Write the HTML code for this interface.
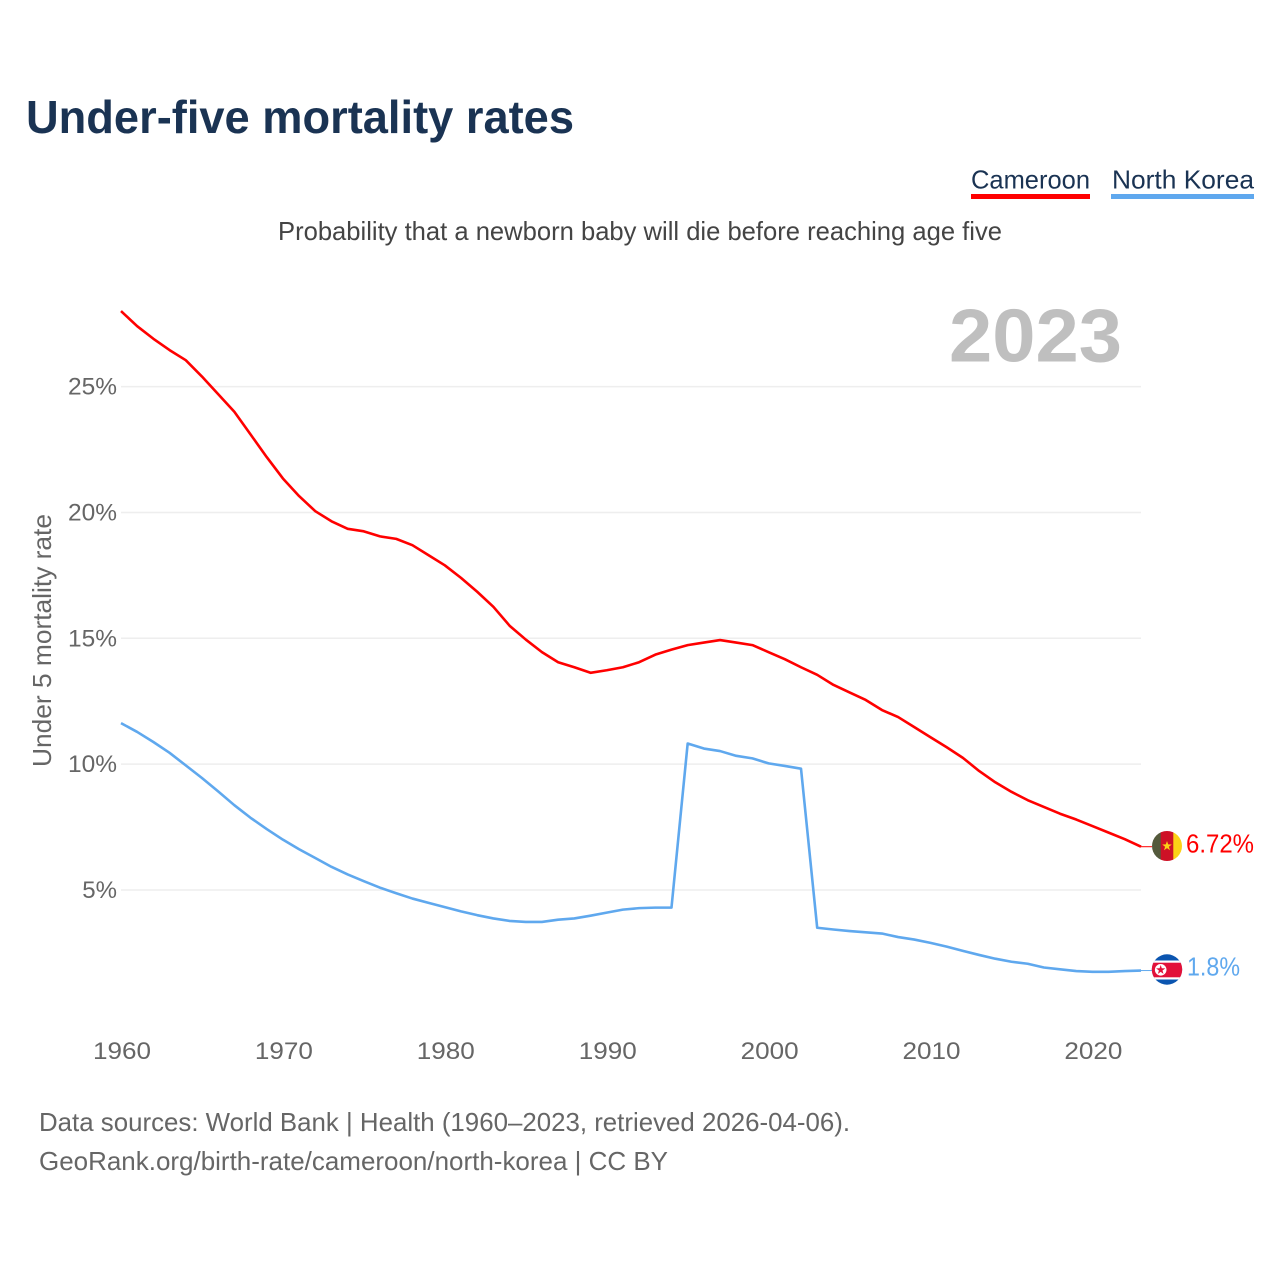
<!DOCTYPE html>
<html lang="en">
<head>
<meta charset="utf-8">
<title>Under-five mortality rates</title>
<style>
html,body{margin:0;padding:0;background:#fff;}
svg{display:block;font-family:"Liberation Sans",sans-serif;}
</style>
</head>
<body>
<svg id="chart" xmlns="http://www.w3.org/2000/svg" width="1280" height="1280" viewBox="0 0 1280 1280">
  <rect x="0" y="0" width="1280" height="1280" fill="#ffffff"/>
  <text x="26" y="133" font-size="46" font-weight="700" fill="#1a3353" textLength="548" lengthAdjust="spacingAndGlyphs">Under-five mortality rates</text>
  <g>
    <text x="971" y="188.5" font-size="26" fill="#1a3353" textLength="119" lengthAdjust="spacingAndGlyphs">Cameroon</text>
    <rect x="971" y="194" width="119" height="5" fill="#ff0000"/>
  </g>
  <g>
    <text x="1112" y="188.5" font-size="26" fill="#1a3353" textLength="142" lengthAdjust="spacingAndGlyphs">North Korea</text>
    <rect x="1111" y="194" width="143" height="5" fill="#5fa8ee"/>
  </g>
  <text x="278" y="240" font-size="26" fill="#444444" textLength="724" lengthAdjust="spacingAndGlyphs">Probability that a newborn baby will die before reaching age five</text>
  <g id="grid"></g>
  <text x="949" y="361.5" font-size="75" font-weight="700" fill="#bfbfbf" textLength="173" lengthAdjust="spacingAndGlyphs">2023</text>
  <g id="yticks"></g>
  <g id="xticks"></g>
  <text transform="translate(51,767) rotate(-90)" x="0" y="0" font-size="26" fill="#666666" textLength="253" lengthAdjust="spacingAndGlyphs">Under 5 mortality rate</text>
  <g id="series"></g>

  <g>
    <clipPath id="clip-cm"><circle cx="1167" cy="846" r="15"/></clipPath>
    <g clip-path="url(#clip-cm)">
      <rect x="1152" y="831" width="9" height="30" fill="#545a3c"/>
      <rect x="1160.7" y="831" width="12.8" height="30" fill="#ce1126"/>
      <rect x="1173.3" y="831" width="9" height="30" fill="#fcd116"/>
      <polygon points="1167,841 1168.2,844.4 1171.8,844.5 1168.9,846.7 1170,850.2 1167,848.1 1164,850.2 1165.1,846.7 1162.2,844.5 1165.8,844.4" fill="#fcd116"/>
    </g>
  </g>
  <g>
    <clipPath id="clip-kp"><circle cx="1167" cy="969.5" r="15.2"/></clipPath>
    <g clip-path="url(#clip-kp)">
      <rect x="1151" y="954" width="32" height="31" fill="#0b55b0"/>
      <rect x="1151" y="960.5" width="32" height="19" fill="#ffffff"/>
      <rect x="1151" y="962.7" width="32" height="14.6" fill="#e2113a"/>
      <circle cx="1160.7" cy="969.8" r="5.8" fill="#ffffff"/>
      <polygon points="1160.7,965 1161.8,968.3 1165.3,968.4 1162.5,970.5 1163.5,973.9 1160.7,971.9 1157.9,973.9 1158.9,970.5 1156.1,968.4 1159.6,968.3" fill="#e2113a"/>
    </g>
  </g>
  <text x="1186" y="852.5" font-size="26" fill="#ff0000" textLength="68" lengthAdjust="spacingAndGlyphs">6.72%</text>
  <text x="1187" y="975.5" font-size="26" fill="#5fa8ee" textLength="53" lengthAdjust="spacingAndGlyphs">1.8%</text>

  <text x="39" y="1131" font-size="26" fill="#666666" textLength="811" lengthAdjust="spacingAndGlyphs">Data sources: World Bank | Health (1960–2023, retrieved 2026-04-06).</text>
  <text x="39" y="1170" font-size="26" fill="#666666" textLength="629" lengthAdjust="spacingAndGlyphs">GeoRank.org/birth-rate/cameroon/north-korea | CC BY</text>
</svg>
<script>
const firstYear = 1960;
const xTickYears = [1960, 1970, 1980, 1990, 2000, 2010, 2020];
const yTickValues = [5, 10, 15, 20, 25];
const yTickLabels = ["5%", "10%", "15%", "20%", "25%"];
const cameroonValues = [
  28.0, 27.4, 26.9, 26.45, 26.05, 25.4, 24.7, 24.0, 23.1, 22.2,
  21.35, 20.65, 20.05, 19.65, 19.35, 19.25, 19.05, 18.95, 18.7, 18.3,
  17.9, 17.4, 16.85, 16.25, 15.5, 14.95, 14.45, 14.05, 13.85, 13.63,
  13.73, 13.85, 14.05, 14.35, 14.55, 14.73, 14.83, 14.93, 14.83, 14.73,
  14.45, 14.17, 13.85, 13.55, 13.15, 12.85, 12.55, 12.15, 11.87, 11.47,
  11.07, 10.67, 10.25, 9.73, 9.28, 8.9, 8.57, 8.3, 8.03, 7.8,
  7.54, 7.28, 7.02, 6.72
];
const northKoreaValues = [
  11.63, 11.28, 10.88, 10.45, 9.95, 9.45, 8.92, 8.37, 7.87, 7.42,
  7.0, 6.62, 6.27, 5.92, 5.62, 5.35, 5.09, 4.87, 4.66, 4.49,
  4.32, 4.15, 4.0, 3.87, 3.77, 3.73, 3.73, 3.82, 3.87, 3.98,
  4.1, 4.22, 4.28, 4.3, 4.3, 10.82, 10.62, 10.52, 10.33, 10.23,
  10.03, 9.93, 9.82, 3.5, 3.43, 3.37, 3.32, 3.27, 3.13, 3.03,
  2.9, 2.75, 2.58, 2.42, 2.27, 2.15, 2.07, 1.92, 1.85, 1.78,
  1.75, 1.75, 1.78, 1.8
];

const SVG_NS = "http://www.w3.org/2000/svg";
const plotLeft = 121, plotRight = 1141, yearSpan = 63;
const yZero = 1015.85, yPerUnit = 25.17;
function xScale(year) { return plotLeft + (year - firstYear) * (plotRight - plotLeft) / yearSpan; }
function yScale(value) { return yZero - value * yPerUnit; }
function svgEl(tag, attrs) {
  const el = document.createElementNS(SVG_NS, tag);
  for (const k in attrs) el.setAttribute(k, attrs[k]);
  return el;
}

const gridGroup = document.getElementById("grid");
const yTickGroup = document.getElementById("yticks");
yTickValues.forEach(function (v, i) {
  const py = yScale(v);
  const line = svgEl("line", { x1: plotLeft, x2: plotRight, y1: py, y2: py, stroke: "#eeeeee", "stroke-width": 1.5 });
  
  
  gridGroup.appendChild(line);
  const label = yTickLabels[i];
  const w = (label.length - 1) * 14.25 + 20.5;
  const t = svgEl("text", { x: 117 - w, y: py + 8, "font-size": 24, fill: "#666666", textLength: w, lengthAdjust: "spacingAndGlyphs" });
  
  
  t.textContent = label;
  yTickGroup.appendChild(t);
});

const xTickGroup = document.getElementById("xticks");
xTickYears.forEach(function (year) {
  const t = svgEl("text", { x: xScale(year) + 1, y: 1059, "font-size": 24, fill: "#666666", "text-anchor": "middle", textLength: 58, lengthAdjust: "spacingAndGlyphs" });
  
  
  t.textContent = String(year);
  xTickGroup.appendChild(t);
});

function linePath(values) {
  return values.map(function (v, i) {
    return (i ? "L" : "M") + xScale(firstYear + i).toFixed(2) + " " + yScale(v).toFixed(2);
  }).join(" ");
}
const seriesGroup = document.getElementById("series");

const cameroonLine = svgEl("path", { d: linePath(cameroonValues), fill: "none", stroke: "#ff0000", "stroke-width": 2.6, "stroke-linejoin": "round" });


seriesGroup.appendChild(cameroonLine);

const northKoreaLine = svgEl("path", { d: linePath(northKoreaValues), fill: "none", stroke: "#5fa8ee", "stroke-width": 2.6, "stroke-linejoin": "round" });


seriesGroup.appendChild(northKoreaLine);

const cameroonLast = yScale(cameroonValues[cameroonValues.length - 1]);
const cameroonLeader = svgEl("line", { x1: plotRight, x2: 1152, y1: cameroonLast, y2: cameroonLast, stroke: "#ff0000", "stroke-width": 1 });


seriesGroup.appendChild(cameroonLeader);

const northKoreaLast = yScale(northKoreaValues[northKoreaValues.length - 1]);
const northKoreaLeader = svgEl("line", { x1: plotRight, x2: 1152, y1: northKoreaLast, y2: northKoreaLast, stroke: "#5fa8ee", "stroke-width": 1 });


seriesGroup.appendChild(northKoreaLeader);
</script>
</body>
</html>
